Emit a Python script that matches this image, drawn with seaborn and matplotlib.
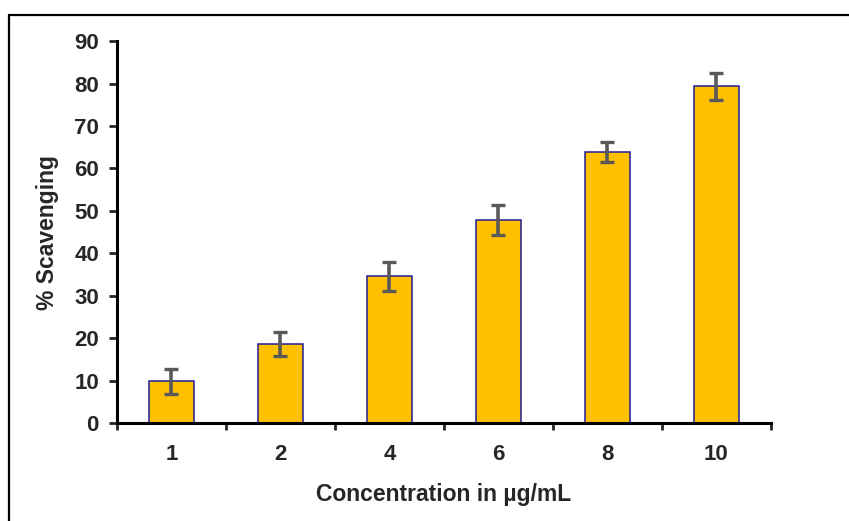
import numpy as np
import pandas as pd
import matplotlib
matplotlib.use('Agg')
import matplotlib.pyplot as plt
from matplotlib.lines import Line2D
import seaborn as sns

# data
concentrations = ['1', '2', '4', '6', '8', '10']
scavenging = [9.8, 18.6, 34.6, 47.9, 63.9, 79.4]
errors = [3.0, 2.8, 3.4, 3.6, 2.4, 3.2]
y_ticks = [0, 10, 20, 30, 40, 50, 60, 70, 80, 90]

sns.set_style('ticks')
plt.rcParams['font.family'] = ['Liberation Sans', 'DejaVu Sans']
plt.rcParams['font.weight'] = 'bold'

df = pd.DataFrame({'conc': concentrations, 'scav': scavenging})

fig = plt.figure(figsize=(8.49, 5.21), dpi=100)
ax = fig.add_axes([0.1378, 0.188, 0.770, 0.733])

sns.barplot(data=df, x='conc', y='scav', ax=ax, color='#FFC000', saturation=1,
            width=0.41, edgecolor='#1E1E96', linewidth=1.1, errorbar=None)

xpos = np.arange(len(concentrations))
ax.errorbar(xpos, scavenging, yerr=errors, fmt='none', ecolor='#595959',
            elinewidth=2.6, capsize=5, capthick=2.4, zorder=5)

ax.set_ylim(0, 90)
ax.set_xlim(-0.5, len(concentrations) - 0.5)
ax.set_yticks(y_ticks)
ax.set_xticks(xpos)
ax.set_xticks(np.arange(len(concentrations) + 1) - 0.5, minor=True)
ax.tick_params(axis='x', which='major', length=0, pad=15, labelsize=16)
ax.tick_params(axis='x', which='minor', length=5, width=2, direction='out')
ax.tick_params(axis='y', length=6, width=2, direction='out', pad=7, labelsize=16)
for lbl in ax.get_xticklabels() + ax.get_yticklabels():
    lbl.set_fontweight('bold')

for s in ['top', 'right']:
    ax.spines[s].set_visible(False)
for s in ['left', 'bottom']:
    ax.spines[s].set_linewidth(2.2)
    ax.spines[s].set_color('black')

ax.set_xlabel('Concentration in µg/mL', fontsize=16.5, fontweight='bold', labelpad=13)
ax.set_ylabel('% Scavenging', fontsize=16.5, fontweight='bold', labelpad=11)

# outer frame (left and top edges)
fig.add_artist(Line2D([9 / 849, 9 / 849], [0, 1 - 15 / 521], color='black', lw=1.6,
                      transform=fig.transFigure))
fig.add_artist(Line2D([9 / 849, 1], [1 - 15 / 521, 1 - 15 / 521], color='black', lw=1.6,
                      transform=fig.transFigure))

fig.savefig('out.png', dpi=100)
